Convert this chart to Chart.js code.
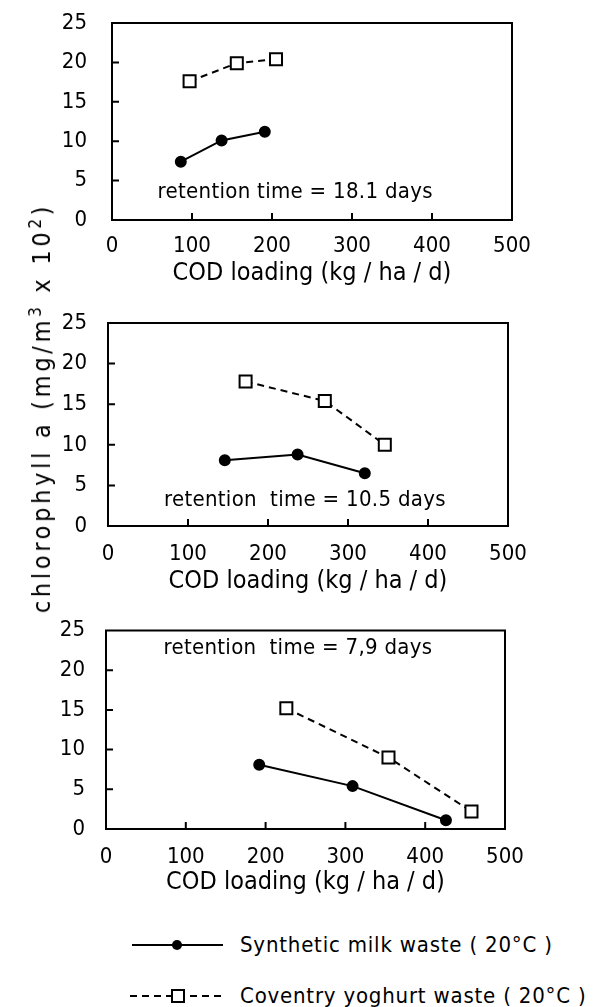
<!DOCTYPE html>
<html lang="en">
<head>
<meta charset="UTF-8">
<title>Chlorophyll a vs COD loading</title>
<script src="https://cdn.jsdelivr.net/npm/chart.js"></script>
<style>
    body { margin: 0; background: #fff; width: 600px; height: 1007px; position: relative; overflow: hidden;
           font-family: 'DejaVu Sans Condensed', 'DejaVu Sans', sans-serif; color: #000; }
    .panel { position: absolute; left: 0; width: 600px; }
    .ytitle { position: absolute; left: 42px; top: 408px; white-space: nowrap; font-size: 25px; letter-spacing: 3.7px;
              line-height: 30px; transform: translate(-50%, -50%) rotate(-90deg); }
    .ytitle sup { font-size: 17px; line-height: 0; }
    .legend { position: absolute; left: 0; top: 0; font-size: 22px; letter-spacing: 0.8px; white-space: nowrap; }
    .legend svg { position: absolute; }
    .legend span { position: absolute; line-height: 30px; }
</style>
</head>
<body>

<div class="panel" style="top:0;height:300px"><canvas id="c1"></canvas></div>
<div class="panel" style="top:300px;height:300px"><canvas id="c2"></canvas></div>
<div class="panel" style="top:620px;height:290px"><canvas id="c3"></canvas></div>

<div class="ytitle">chlorophyll a (mg/m<sup>3</sup> x 10<sup>2</sup>)</div>

<div class="legend">
    <svg style="left:128px;top:935px" width="100" height="20">
        <line x1="4" y1="10" x2="95" y2="10" stroke="#000" stroke-width="2"/>
        <circle cx="49" cy="10" r="5" fill="#000"/>
    </svg>
    <span style="left:240px;top:930px">Synthetic milk waste ( 20°C )</span>
    <svg style="left:126px;top:986px" width="100" height="20">
        <line x1="4" y1="10" x2="95" y2="10" stroke="#000" stroke-width="2" stroke-dasharray="7,5"/>
        <rect x="46" y="4" width="12" height="12" fill="#fff" stroke="#000" stroke-width="2"/>
    </svg>
    <span style="left:240px;top:981px">Coventry yoghurt waste ( 20°C )</span>
</div>

<script>
// valeurs
const xTicks = [0, 100, 200, 300, 400, 500];
const yTicks = [0, 5, 10, 15, 20, 25];

const milkX1 = [86, 137, 191];
const milkY1 = [7.4, 10.1, 11.2];
const yogX1 = [97, 156, 205];
const yogY1 = [17.6, 19.9, 20.4];

const milkX2 = [146, 237, 321];
const milkY2 = [8.1, 8.8, 6.5];
const yogX2 = [172, 271, 346];
const yogY2 = [17.8, 15.4, 10.0];

const milkX3 = [192, 309, 426];
const milkY3 = [8.1, 5.4, 1.1];
const yogX3 = [226, 354, 458];
const yogY3 = [15.2, 9.0, 2.2];

const retention = ['retention time = 18.1 days', 'retention  time = 10.5 days', 'retention  time = 7,9 days'];

const FONT = "'DejaVu Sans Condensed', 'DejaVu Sans', sans-serif";
const INK = '#000';

function pts(xs, ys) {
    return xs.map((x, i) => ({ x: x, y: ys[i] }));
}

// cadre + petites graduations vers l'intérieur + texte de retention
function boxPlugin(label, lx, ly) {
    return {
        id: 'box',
        afterDatasetsDraw(chart) {
            const { ctx, chartArea: a, scales } = chart;
            ctx.save();
            ctx.strokeStyle = INK;
            ctx.lineWidth = 2;
            ctx.strokeRect(a.left, a.top, a.right - a.left, a.bottom - a.top);
            ctx.beginPath();
            xTicks.slice(1, -1).forEach(v => {
                const px = scales.x.getPixelForValue(v);
                ctx.moveTo(px, a.bottom);
                ctx.lineTo(px, a.bottom - 7);
            });
            yTicks.slice(1, -1).forEach(v => {
                const py = scales.y.getPixelForValue(v);
                ctx.moveTo(a.left, py);
                ctx.lineTo(a.left + 7, py);
            });
            ctx.stroke();
            ctx.fillStyle = INK;
            ctx.font = '22px ' + FONT;
            ctx.letterSpacing = '0.3px';
            ctx.textBaseline = 'middle';
            ctx.fillText(label, scales.x.getPixelForValue(lx), scales.y.getPixelForValue(ly));
            ctx.restore();
        }
    };
}

function makePanel(id, p) {
    new Chart(document.getElementById(id), {
        type: 'line',
        data: {
            datasets: [{
                label: 'Synthetic milk waste ( 20°C )',
                data: pts(p.mx, p.my),
                borderColor: INK,
                borderWidth: 2,
                pointStyle: 'circle',
                pointRadius: 5,
                pointBackgroundColor: INK,
                pointBorderColor: INK
            }, {
                label: 'Coventry yoghurt waste ( 20°C )',
                data: pts(p.yx, p.yy),
                borderColor: INK,
                borderWidth: 2,
                borderDash: [7, 5],
                pointStyle: 'rect',
                pointRadius: 8.5,
                pointBorderWidth: 2,
                pointBackgroundColor: '#fff',
                pointBorderColor: INK
            }]
        },
        options: {
            responsive: true,
            maintainAspectRatio: false,
            animation: false,
            layout: { padding: { left: p.left - 50, right: 600 - p.right, top: p.top, bottom: 0 } },
            plugins: { legend: { display: false }, tooltip: { enabled: false } },
            scales: {
                x: {
                    type: 'linear',
                    min: 0, max: 500,
                    afterBuildTicks: s => { s.ticks = xTicks.map(v => ({ value: v })); },
                    afterFit: s => { s.height = p.xh; s.paddingLeft = 0; s.paddingRight = 0; },
                    border: { display: false },
                    grid: { display: false },
                    ticks: { color: INK, font: { size: 22, family: FONT }, padding: p.xpad, maxRotation: 0 },
                    title: { display: true, text: 'COD loading (kg / ha / d)', color: INK,
                             font: { size: 25, family: FONT }, padding: { top: 0, bottom: p.tpad } }
                },
                y: {
                    min: 0, max: 25,
                    afterBuildTicks: s => { s.ticks = yTicks.map(v => ({ value: v })); },
                    afterFit: s => { s.width = 50; s.paddingTop = 0; s.paddingBottom = 0; },
                    border: { display: false },
                    grid: { display: false },
                    ticks: { color: INK, font: { size: 22, family: FONT }, padding: p.ypad }
                }
            }
        },
        plugins: [boxPlugin(p.label, p.lx, p.ly)]
    });
}

makePanel('c1', { mx: milkX1, my: milkY1, yx: yogX1, yy: yogY1, left: 112, right: 512, top: 23, xh: 80,
                  xpad: 5, tpad: 12, ypad: 17, label: retention[0], lx: 57, ly: 3.5 });
makePanel('c2', { mx: milkX2, my: milkY2, yx: yogX2, yy: yogY2, left: 108, right: 508, top: 23, xh: 74,
                  xpad: 7, tpad: 4, ypad: 13, label: retention[1], lx: 70, ly: 3.2 });
makePanel('c3', { mx: milkX3, my: milkY3, yx: yogX3, yy: yogY3, left: 106, right: 505, top: 10, xh: 81,
                  xpad: 7, tpad: 13, ypad: 13, label: retention[2], lx: 72, ly: 22.7 });
</script>
</body>
</html>
